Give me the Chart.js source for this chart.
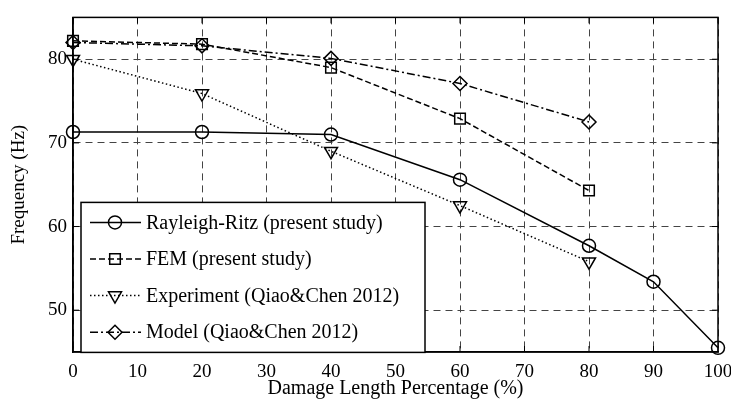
<!DOCTYPE html>
<html>
<head>
<meta charset="utf-8">
<script src="https://cdn.jsdelivr.net/npm/chart.js@4.4.0/dist/chart.umd.min.js"></script>
<style>
  html, body { margin: 0; padding: 0; background: #fff; }
</style>
</head>
<body>
<canvas id="freqChart" width="731" height="403"></canvas>
<script>
// --- data ---
// damage length percentage (%)
const damageRR = [0, 20, 40, 60, 80, 90, 100];
const damageRef = [0, 20, 40, 60, 80];

// frequency (Hz)
const rayleighRitz = [71.3, 71.3, 71.0, 65.6, 57.7, 53.4, 45.5];
const femStudy = [82.2, 81.8, 79.0, 72.9, 64.3];
const experiment = [80.0, 75.9, 69.0, 62.5, 55.8];
const modelQiao = [82.0, 81.6, 80.1, 77.1, 72.5];

const seriesNames = [
    'Rayleigh-Ritz (present study)',
    'FEM (present study)',
    'Experiment (Qiao&Chen 2012)',
    'Model (Qiao&Chen 2012)'
];

const xTicks = [0, 10, 20, 30, 40, 50, 60, 70, 80, 90, 100];
const yTicks = [50, 60, 70, 80];

const serif = "'Liberation Serif', 'Times New Roman', serif";

// turn x/y arrays into point lists
function toPoints(xs, ys) {
    return xs.map((x, i) => ({ x: x, y: ys[i] }));
}

function makeSeries(label, xs, ys, dash, style, radius, rotation) {
    return {
        label: label,
        data: toPoints(xs, ys),
        borderColor: '#000',
        borderWidth: 1.5,
        borderDash: dash,
        pointStyle: style,
        pointRadius: radius,
        pointRotation: rotation,
        pointBorderColor: '#000',
        pointBorderWidth: 1.5,
        pointBackgroundColor: 'rgba(0,0,0,0)',
        tension: 0,
        fill: false,
        clip: false
    };
}

// box around the plot area, with small inward ticks
const framePlugin = {
    id: 'frame',
    beforeDatasetsDraw(chart) {
        const { ctx, chartArea: a, scales } = chart;
        ctx.save();
        ctx.strokeStyle = '#000';
        ctx.lineWidth = 1.5;
        ctx.setLineDash([]);
        ctx.strokeRect(a.left, a.top, a.right - a.left, a.bottom - a.top);
        ctx.lineWidth = 1;
        ctx.beginPath();
        xTicks.forEach(v => {
            const px = scales.x.getPixelForValue(v);
            ctx.moveTo(px, a.bottom); ctx.lineTo(px, a.bottom - 6);
            ctx.moveTo(px, a.top); ctx.lineTo(px, a.top + 6);
        });
        yTicks.forEach(v => {
            const py = scales.y.getPixelForValue(v);
            ctx.moveTo(a.left, py); ctx.lineTo(a.left + 6, py);
            ctx.moveTo(a.right, py); ctx.lineTo(a.right - 6, py);
        });
        ctx.stroke();
        ctx.restore();
    }
};

// matlab-like legend: line with the marker in the middle
const boxLegendPlugin = {
    id: 'boxLegend',
    afterDatasetsDraw(chart) {
        const { ctx, chartArea: a } = chart;
        const left = a.left + 8;
        const top = a.top + 185;
        const w = 344;
        const h = 150;
        const rowGap = 36.6;

        ctx.save();
        ctx.fillStyle = '#fff';
        ctx.fillRect(left, top, w, h);
        ctx.strokeStyle = '#000';
        ctx.lineWidth = 1.5;
        ctx.setLineDash([]);
        ctx.strokeRect(left, top, w, h);

        chart.data.datasets.forEach((ds, i) => {
            const y = top + 20 + i * rowGap;
            ctx.strokeStyle = '#000';
            ctx.lineWidth = ds.borderWidth;
            ctx.setLineDash(ds.borderDash || []);
            ctx.beginPath();
            ctx.moveTo(left + 9, y);
            ctx.lineTo(left + 60, y);
            ctx.stroke();

            ctx.setLineDash([]);
            ctx.fillStyle = 'rgba(0,0,0,0)';
            ctx.lineWidth = ds.pointBorderWidth;
            Chart.helpers.drawPoint(ctx, {
                pointStyle: ds.pointStyle,
                rotation: ds.pointRotation,
                radius: ds.pointRadius,
                borderWidth: ds.pointBorderWidth
            }, left + 34, y);

            ctx.fillStyle = '#000';
            ctx.font = '20px ' + serif;
            ctx.textAlign = 'left';
            ctx.textBaseline = 'middle';
            ctx.fillText(ds.label, left + 65, y + 1);
        });
        ctx.restore();
    }
};

const ctx = document.getElementById('freqChart').getContext('2d');

new Chart(ctx, {
    type: 'line',
    data: {
        datasets: [
            makeSeries(seriesNames[0], damageRR, rayleighRitz, [], 'circle', 6.5, 0),
            makeSeries(seriesNames[1], damageRef, femStudy, [6, 3], 'rect', 7.5, 0),
            makeSeries(seriesNames[2], damageRef, experiment, [1.5, 2.5], 'triangle', 7.5, 180),
            makeSeries(seriesNames[3], damageRef, modelQiao, [8, 3, 2, 3], 'rectRot', 7, 0)
        ]
    },
    options: {
        responsive: false,
        animation: false,
        devicePixelRatio: 1,
        layout: { padding: { top: 9, right: 13, left: 0, bottom: 0 } },
        plugins: {
            legend: { display: false },
            tooltip: { enabled: false }
        },
        scales: {
            x: {
                type: 'linear',
                min: 0,
                max: 100,
                afterBuildTicks: scale => { scale.ticks = xTicks.map(v => ({ value: v })); },
                afterFit: scale => {
                    scale.height = 51;
                    scale.paddingLeft = 0;
                    scale.paddingRight = 0;
                },
                grid: { color: '#444', lineWidth: 1, drawTicks: false },
                border: { display: true, color: '#000', width: 1.5, dash: [7, 5] },
                ticks: { color: '#000', padding: 9, font: { family: serif, size: 19 } },
                title: {
                    display: true,
                    text: 'Damage Length Percentage (%)',
                    color: '#000',
                    font: { family: serif, size: 20 },
                    padding: { top: 0, bottom: 2 }
                }
            },
            y: {
                type: 'linear',
                min: 45,
                max: 85,
                afterBuildTicks: scale => { scale.ticks = yTicks.map(v => ({ value: v })); },
                afterFit: scale => { scale.width = 73; },
                grid: { color: '#444', lineWidth: 1, drawTicks: false },
                border: { display: true, color: '#000', width: 1.5, dash: [7, 5] },
                ticks: { color: '#000', padding: 6, font: { family: serif, size: 19 } },
                title: {
                    display: true,
                    text: 'Frequency (Hz)',
                    color: '#000',
                    font: { family: serif, size: 19 },
                    padding: { top: 8, bottom: 0 }
                }
            }
        }
    },
    plugins: [framePlugin, boxLegendPlugin]
});
</script>
</body>
</html>
